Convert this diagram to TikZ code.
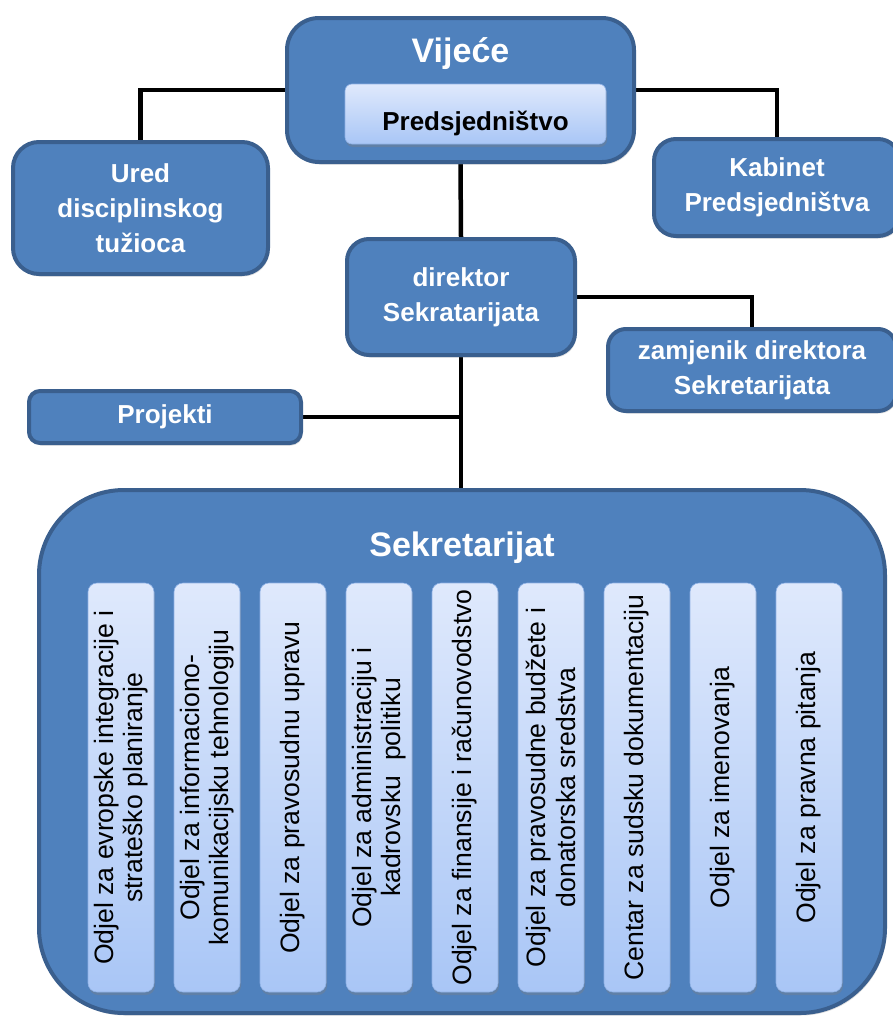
\documentclass[tikz,border=0pt]{standalone}
\usepackage{fontspec}
\setmainfont{Liberation Sans}
\usepackage{tikz}
\usetikzlibrary{positioning, shadows}

\definecolor{plava}{HTML}{4F81BD}
\definecolor{rub}{HTML}{3A5F8E}
\definecolor{svijetla}{HTML}{DFE9FC}
\definecolor{svijetla2}{HTML}{A9C6F6}
\pgfdeclarelayer{pozadina}
\pgfsetlayers{pozadina,main}

\tikzset{
    okvir/.style={draw=rub, line width=4pt, fill=plava, rounded corners=22pt,
        text=white, align=center, inner sep=0pt,
        font=\bfseries\fontsize{26}{35}\selectfont,
        drop shadow={opacity=0.25, shadow xshift=1.5pt, shadow yshift=-2.5pt}},
    svijetli/.style={draw=svijetla2!70!plava, line width=0.6pt,
        top color=svijetla, bottom color=svijetla2, rounded corners=9pt, inner sep=0pt,
        drop shadow={opacity=0.35, shadow xshift=1pt, shadow yshift=-3pt}},
    veza/.style={line width=4.5pt, black},
    odjel/.style={rotate=90, align=center, font=\fontsize{26.6}{29.5}\selectfont},
}

\begin{document}
\begin{tikzpicture}[x=1pt, y=-1pt]
    \useasboundingbox (0,0) rectangle (892,1017);

    % Vijeće i Predsjedništvo
    \node[okvir, minimum width=347pt, minimum height=144pt, rounded corners=32pt] (vijece) at (460.5,90) {};
    \node[anchor=base, text=white, font=\bfseries\fontsize{34}{40}\selectfont] (vijeceNaslov) at (460.5,62) {Vijeće};
    \node[svijetli, minimum width=261pt, minimum height=60pt, rounded corners=7pt] (predsjednistvo) at (475.5,114) {};
    \node[anchor=base, font=\bfseries\fontsize{26}{35}\selectfont] (predsjednistvoTekst) at (475.5,130) {Predsjedništvo};

    % Ured i Kabinet
    \node[okvir, minimum width=255pt, minimum height=132pt, rounded corners=26pt] (ured) at (140.5,208) {Ured\\disciplinskog\\tužioca};
    \node[okvir, minimum width=246pt, minimum height=97pt] (kabinet) at (777,187.5) {Kabinet\\Predsjedništva};

    % direktor, zamjenik i Projekti
    \node[okvir, minimum width=228pt, minimum height=116pt] (direktor) at (461,297) {direktor\\Sekratarijata};
    \node[okvir, minimum width=288pt, minimum height=82pt, rounded corners=18pt] (zamjenik) at (752,370) {zamjenik direktora\\Sekretarijata};
    \node[okvir, minimum width=272pt, minimum height=52pt, rounded corners=11pt] (projekti) at (165,417) {Projekti};

    % Sekretarijat
    \node[okvir, minimum width=846pt, minimum height=523pt, rounded corners=85pt] (sekretarijat) at (462,751.5) {};
    \node[anchor=base, text=white, font=\bfseries\fontsize{34}{40}\selectfont] (sekretarijatNaslov) at (462,556) {Sekretarijat};

    % Odjeli
    \foreach \i/\tekst in {1/{Odjel za evropske integracije i\\strateško planiranje},
            2/{Odjel za informaciono-\\komunikacijsku tehnologiju},
            3/{Odjel za pravosudnu upravu},
            4/{Odjel za administraciju i\\kadrovsku\ \ politiku},
            5/{Odjel za finansije i računovodstvo},
            6/{Odjel za pravosudne budžete i\\donatorska sredstva},
            7/{Centar za sudsku dokumentaciju},
            8/{Odjel za imenovanja},
            9/{Odjel za pravna pitanja}}{
        \node[svijetli, minimum width=66pt, minimum height=409pt] (odjel\i) at ({121+86*(\i-1)},787.5) {};
        \node[odjel] (odjelTekst\i) at (odjel\i) {\tekst};
    }

    % Veze
    \begin{pgfonlayer}{pozadina}
        \draw[veza] (vijece.west) -| (ured.north);
        \draw[veza] (vijece.east) -| (kabinet.north);
        \draw[veza] (vijece.south) -- (direktor.north);
        \draw[veza] (direktor.east) -| (zamjenik.north);
        \draw[veza] (direktor.south) -- (direktor.south |- sekretarijat.north);
        \draw[veza] (projekti.east) -- (projekti.east -| direktor.south);
    \end{pgfonlayer}
\end{tikzpicture}
\end{document}
